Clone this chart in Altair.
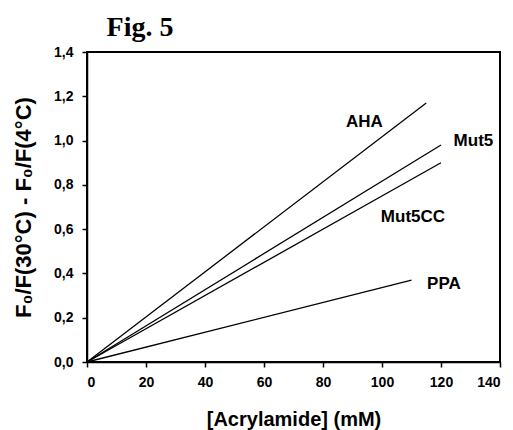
import altair as alt
import pandas as pd

# Quenching difference lines, each running from the origin to its last point
series = ["AHA", "Mut5", "Mut5CC", "PPA"]
start_x = [0, 0, 0, 0]
start_y = [0.0, 0.0, 0.0, 0.0]
end_x = [115, 120, 120, 110]
end_y = [1.17, 0.98, 0.90, 0.37]

# Series label positions (data coordinates)
label_x = [94, 131, 110.5, 121]
label_y = [1.083, 1.0, 0.654, 0.352]

rows = []
for s, x0, y0, x1, y1 in zip(series, start_x, start_y, end_x, end_y):
    rows.append({"series": s, "x": x0, "y": y0})
    rows.append({"series": s, "x": x1, "y": y1})
lines_df = pd.DataFrame(rows)
labels_df = pd.DataFrame({"series": series, "x": label_x, "y": label_y})

FONT = "Liberation Sans"

x_scale = alt.Scale(domain=[0, 140], nice=False, zero=True)
y_scale = alt.Scale(domain=[0, 1.4], nice=False)

x_axis = alt.Axis(
    title="[Acrylamide] (mM)",
    values=[0, 20, 40, 60, 80, 100, 120, 140],
    grid=False, tickSize=5, tickColor="black", domainColor="black",
    domainWidth=1.5, tickWidth=1.5,
    labelFont=FONT, labelFontSize=14, labelFontWeight="bold", labelColor="black",
    labelPadding=8,
    titleFont=FONT, titleFontSize=20, titleFontWeight="bold", titleColor="black",
    titlePadding=20,
)
y_axis = alt.Axis(
    title="F\u2080/F(30°C) - F\u2080/F(4°C)",
    values=[0, 0.2, 0.4, 0.6, 0.8, 1.0, 1.2, 1.4],
    labelExpr="replace(format(datum.value, '.1f'), '.', ',')",
    grid=False, tickSize=5, tickColor="black", domainColor="black",
    domainWidth=1.5, tickWidth=1.5,
    labelFont=FONT, labelFontSize=14, labelFontWeight="bold", labelColor="black",
    labelPadding=9,
    titleFont=FONT, titleFontSize=22, titleFontWeight="bold", titleColor="black",
    titlePadding=18,
)

lines = alt.Chart(lines_df).mark_line(color="black", strokeWidth=1.3).encode(
    x=alt.X("x:Q", scale=x_scale, axis=x_axis),
    y=alt.Y("y:Q", scale=y_scale, axis=y_axis),
    detail="series:N",
)

labels = alt.Chart(labels_df).mark_text(
    font=FONT, fontSize=17, fontWeight="bold", color="black",
    align="center", baseline="middle",
).encode(
    x=alt.X("x:Q", scale=x_scale),
    y=alt.Y("y:Q", scale=y_scale),
    text="series:N",
)

chart = (
    alt.layer(lines, labels)
    .properties(
        width=413,
        height=310,
        autosize=alt.AutoSizeParams(type="none"),
        padding={"left": 87, "top": 52, "right": 13, "bottom": 68},
        title=alt.Title(
            "Fig. 5", anchor="start", dx=94, offset=3,
            font="Liberation Serif", fontSize=28, fontWeight="bold", color="black",
        ),
        background="white",
    )
    .configure_view(stroke="black", strokeWidth=2)
)

chart.save("out.html", embed_options={"renderer": "svg", "actions": False})
